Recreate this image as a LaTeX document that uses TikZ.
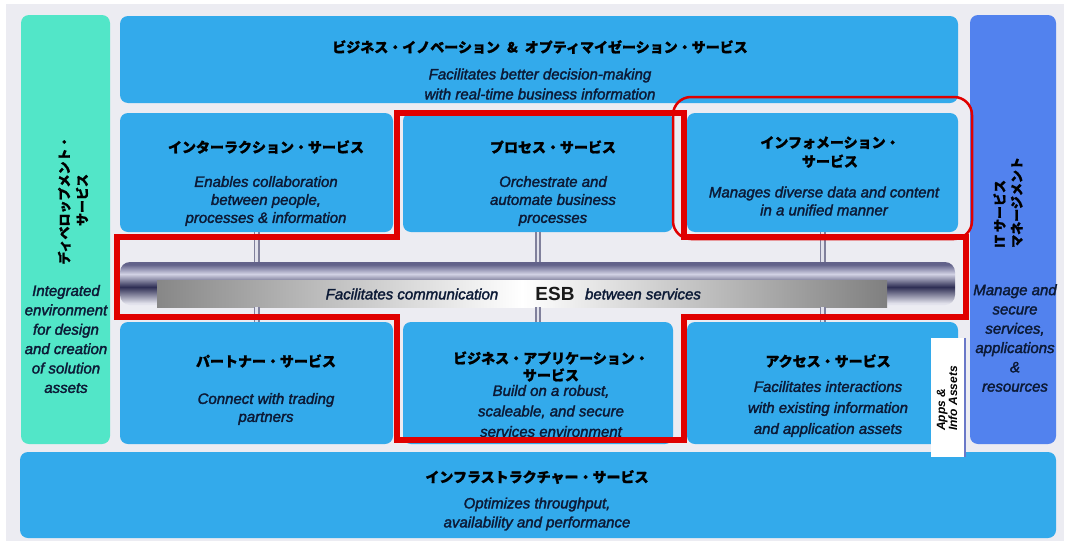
\documentclass[tikz,border=0pt]{standalone}
\usepackage{fontspec}
\setmainfont{Liberation Sans}
\newfontfamily\descfont{Liberation Sans}[UprightFeatures={FakeBold=2}, ItalicFeatures={FakeBold=2}]
\newfontfamily\jp{Noto Sans CJK JP}[BoldFeatures={FakeBold=1.2}]
\definecolor{bgc}{HTML}{ECECF2}
\definecolor{boxblue}{HTML}{33AAEB}
\definecolor{colteal}{HTML}{52E6C8}
\definecolor{rblue}{HTML}{5282EE}
\definecolor{redl}{HTML}{E00000}
\definecolor{desc}{HTML}{0C1A36}
\definecolor{tt}{HTML}{62628A}
\definecolor{tm}{HTML}{D2D2E4}
\definecolor{td}{HTML}{2E2E54}
\definecolor{tl}{HTML}{E2E2EC}
\definecolor{conncol}{HTML}{80809C}
\definecolor{appsline}{HTML}{6A78C8}
\pgfdeclareverticalshading{tube}{100bp}{color(0bp)=(tl); color(27bp)=(tl); color(46bp)=(td); color(61bp)=(tm); color(72bp)=(tt); color(100bp)=(tt)}
\begin{document}
\begin{tikzpicture}[x=1pt,y=-1pt,
  box/.style={rounded corners=8pt, fill=boxblue, inner sep=0pt, draw=none},
  jt/.style={font=\jp\bfseries\fontsize{14}{17}\selectfont, text=black, align=center, inner sep=0pt},
  ds/.style={font=\descfont\itshape\fontsize{15}{18}\selectfont, text=desc, align=center, inner sep=0pt},
  conn/.style={draw=conncol, double=tl, double distance=2.4pt, line width=1.8pt},
  redframe/.style={draw=redl, line width=5.5pt, line join=miter}
]
\useasboundingbox (0,0) rectangle (1068,541);
\fill[white] (0,0) rectangle (1068,541);
\fill[bgc] (6,4) rectangle (1064,541);

% side columns
\node[box, fill=colteal, minimum width=89pt, minimum height=429pt] (dev) at (65.5,229.5) {};
\node[box, fill=rblue, minimum width=86pt, minimum height=429pt] (itsm) at (1013,229.5) {};

% top box
\node[box, minimum width=838pt, minimum height=87pt] (bio) at (539,59.5) {};

% middle top row
\node[box, minimum width=273pt, minimum height=119pt] (inter) at (256.5,172.5) {};
\node[box, minimum width=270pt, minimum height=119pt] (proc) at (538,172.5) {};
\node[box, minimum width=271pt, minimum height=119pt] (info) at (822.5,172.5) {};

% middle bottom row
\node[box, minimum width=273pt, minimum height=122pt] (partner) at (256.5,383) {};
\node[box, minimum width=270pt, minimum height=122pt] (bizapp) at (538,383) {};
\node[box, minimum width=271pt, minimum height=122pt] (access) at (822.5,383) {};

% infrastructure
\node[box, minimum width=1036pt, minimum height=86pt] (infra) at (538,495) {};

% ESB tube
\node[shade, shading=tube, rounded corners=10pt, minimum width=835pt, minimum height=43pt, inner sep=0pt] (tube) at (537.5,283.5) {};
\node[shade, left color=black!47, right color=black!50, middle color=white, minimum width=730pt, minimum height=27pt, inner sep=0pt] (bar) at (522,293.5) {};

% connectors
\draw[conn] (inter.south) -- (inter.south |- tube.north);
\draw[conn] (proc.south) -- (proc.south |- tube.north);
\draw[conn] (info.south) -- (info.south |- tube.north);
\draw[conn] (partner.north) -- (partner.north |- bar.south);
\draw[conn] (bizapp.north) -- (bizapp.north |- bar.south);
\draw[conn] (access.north) -- (access.north |- bar.south);

% Apps & Info Assets
\node[fill=white, minimum width=34pt, minimum height=119pt, inner sep=0pt] (apps) at (948,397.5) {};
\draw[appsline, line width=2pt] (apps.north east) -- (apps.south east);
\node[rotate=90, anchor=west, align=left, inner sep=0pt, text=black, font=\bfseries\itshape\fontsize{12}{12}\selectfont] (appst) at (947,431) {Apps \&\\Info Assets};

% texts
\node[jt] (biot) at (540,47) {ビジネス・イノベーション\enspace\&\enspace オプティマイゼーション・サービス};
\node[ds, font=\descfont\itshape\fontsize{15}{20}\selectfont] (biod) at (540,84) {Facilitates better decision-making\\with real-time business information};

\node[jt] (intert) at (266,147) {インターラクション・サービス};
\node[ds] (interd) at (266,201) {Enables collaboration\\between people,\\processes \& information};

\node[jt] (proct) at (553,147) {プロセス・サービス};
\node[ds] (procd) at (553,201) {Orchestrate and\\automate business\\processes};

\node[jt, font=\jp\bfseries\fontsize{14}{19}\selectfont] (infot) at (830,152) {インフォメーション・\\サービス};
\node[ds] (infod) at (824,201) {Manages diverse data and content\\in a unified manner};

\node[ds] (esbl) at (412,294) {Facilitates communication};
\node[inner sep=0pt, font=\bfseries\fontsize{19}{20}\selectfont, text=black!90] (esbt) at (555,294) {ESB};
\node[ds] (esbr) at (643,294) {between services};

\node[jt] (partnert) at (266,361) {パートナー・サービス};
\node[ds] (partnerd) at (266,409) {Connect with trading\\partners};

\node[jt, font=\jp\bfseries\fontsize{14}{17}\selectfont] (bizappt) at (551,366.5) {ビジネス・アプリケーション・\\サービス};
\node[ds, font=\descfont\itshape\fontsize{15}{20.5}\selectfont] (bizappd) at (551,411) {Build on a robust,\\scaleable, and secure\\services environment};

\node[jt] (accesst) at (828,361) {アクセス・サービス};
\node[ds, font=\descfont\itshape\fontsize{15}{21}\selectfont] (accessd) at (828,409) {Facilitates interactions\\with existing information\\and application assets};

\node[jt] (infrat) at (537,477) {インフラストラクチャー・サービス};
\node[ds, font=\descfont\itshape\fontsize{15}{19}\selectfont] (infrad) at (537,514) {Optimizes throughput,\\availability and performance};

\node[jt, rotate=90, font=\jp\bfseries\fontsize{13}{18}\selectfont] (devt) at (73,200) {ディベロップメント・\\サービス};
\node[ds, font=\descfont\itshape\fontsize{15}{19.4}\selectfont] (devd) at (66,339) {Integrated\\environment\\for design\\and creation\\of solution\\assets};

\node[jt, rotate=90, anchor=west, align=left, font=\jp\bfseries\fontsize{13}{17}\selectfont] (itsmt) at (1008,248) {IT サービス\\マネージメント};
\node[ds, font=\descfont\itshape\fontsize{15}{19.3}\selectfont] (itsmd) at (1015,338) {Manage and\\secure\\services,\\applications\\\&\\resources};

% red highlight frames
\draw[redframe] (397,113) -- (684,113) -- (684,237) -- (966,237) -- (966,317) -- (684,317) -- (684,440) -- (397,440) -- (397,317) -- (117,317) -- (117,237) -- (397,237) -- cycle;
\draw[draw=redl, line width=2.5pt, rounded corners=18pt] (673,97) rectangle (972,239);
\end{tikzpicture}
\end{document}
